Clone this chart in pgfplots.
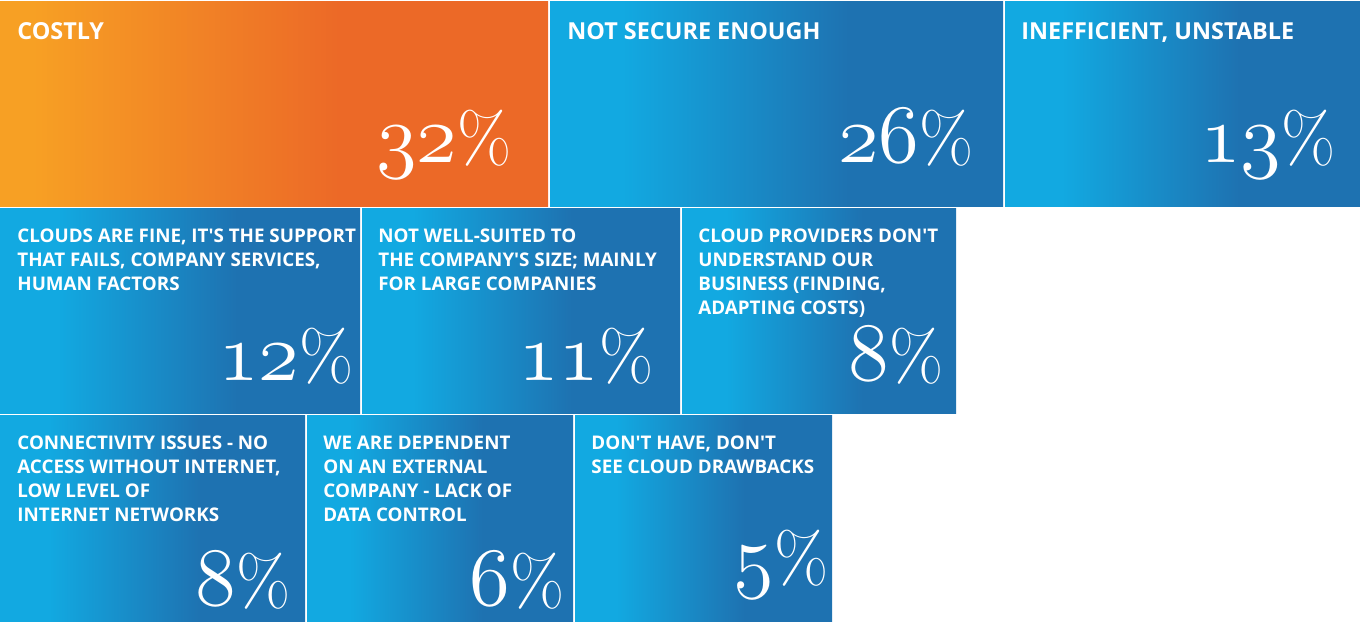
\documentclass[border=0pt]{standalone}
\usepackage{fontspec}
\usepackage{graphicx}
\usepackage{pgfplots}
\pgfplotsset{compat=1.18}
\newfontfamily\labfont{Open Sans}[BoldFont={Open Sans Bold}]
\definecolor{oL}{HTML}{F7A024}
\definecolor{oR}{HTML}{EC6927}
\definecolor{bL}{HTML}{12A9E1}
\definecolor{bR}{HTML}{1E72B1}
% TikZ maps the path box to 25bp..75bp of the shading
\pgfdeclarehorizontalshading{orangeshade}{100bp}{color(0bp)=(oL); color(28bp)=(oL); color(56bp)=(oR); color(100bp)=(oR)}
\pgfdeclarehorizontalshading{blueshade}{100bp}{color(0bp)=(bL); color(33bp)=(bL); color(58bp)=(bR); color(100bp)=(bR)}
\newcommand\onum[1]{\scalebox{2}{\fontencoding{OML}\fontfamily{lmm}\fontseries{m}\fontshape{it}\fontsize{22}{22}\selectfont #1}{\fontsize{35}{35}\selectfont\%}}
\tikzset{
  lab/.style={anchor=base west, text=white, font=\labfont\bfseries\fontsize{9.4}{12}\selectfont, inner sep=0pt},
  big/.style={anchor=base west, text=white, font=\labfont\bfseries\fontsize{11.7}{12}\selectfont, inner sep=0pt},
  num/.style={anchor=base east, text=white, inner sep=0pt},
}
\begin{document}
\begin{tikzpicture}
\begin{axis}[
  scale only axis, width=680pt, height=313.5pt,
  xmin=0, xmax=1360, ymin=0, ymax=627, y dir=reverse,
  xtick=\empty, ytick=\empty, axis line style={draw=none},
  clip=false,
]
% Row 1
\addplot[shade, shading=orangeshade, draw=none] coordinates {(0,1) (548,1) (548,206) (0,206) (0,1)};
\addplot[shade, shading=blueshade, draw=none] coordinates {(550,1) (1003,1) (1003,206) (550,206) (550,1)};
\addplot[shade, shading=blueshade, draw=none] coordinates {(1005,1) (1360,1) (1360,206) (1005,206) (1005,1)};
% Row 2
\addplot[shade, shading=blueshade, draw=none] coordinates {(0,208) (360,208) (360,413) (0,413) (0,208)};
\addplot[shade, shading=blueshade, draw=none] coordinates {(362,208) (680,208) (680,413) (362,413) (362,208)};
\addplot[shade, shading=blueshade, draw=none] coordinates {(682,208) (956,208) (956,413) (682,413) (682,208)};
% Row 3
\addplot[shade, shading=blueshade, draw=none] coordinates {(0,415) (305,415) (305,621) (0,621) (0,415)};
\addplot[shade, shading=blueshade, draw=none] coordinates {(307,415) (573,415) (573,621) (307,621) (307,415)};
\addplot[shade, shading=blueshade, draw=none] coordinates {(575,415) (832,415) (832,621) (575,621) (575,415)};

% labels row 1
\node[big] at (axis cs:17,39) {COSTLY};
\node[big] at (axis cs:567,39) {NOT SECURE ENOUGH};
\node[big] at (axis cs:1021,39) {INEFFICIENT, UNSTABLE};
% row 2
\node[lab] at (axis cs:17,242) {CLOUDS ARE FINE, IT\textquotesingle S THE SUPPORT};
\node[lab] at (axis cs:17,266) {THAT FAILS, COMPANY SERVICES,};
\node[lab] at (axis cs:17,290) {HUMAN FACTORS};
\node[lab] at (axis cs:378,242) {NOT WELL-SUITED TO};
\node[lab] at (axis cs:378,266) {THE COMPANY\textquotesingle S SIZE; MAINLY};
\node[lab] at (axis cs:378,290) {FOR LARGE COMPANIES};
\node[lab] at (axis cs:698,242) {CLOUD PROVIDERS DON\textquotesingle T};
\node[lab] at (axis cs:698,266) {UNDERSTAND OUR};
\node[lab] at (axis cs:698,290) {BUSINESS (FINDING,};
\node[lab] at (axis cs:698,314) {ADAPTING COSTS)};
% row 3
\node[lab] at (axis cs:17,449) {CONNECTIVITY ISSUES - NO};
\node[lab] at (axis cs:17,473) {ACCESS WITHOUT INTERNET,};
\node[lab] at (axis cs:17,497) {LOW LEVEL OF};
\node[lab] at (axis cs:17,521) {INTERNET NETWORKS};
\node[lab] at (axis cs:323,449) {WE ARE DEPENDENT};
\node[lab] at (axis cs:323,473) {ON AN EXTERNAL};
\node[lab] at (axis cs:323,497) {COMPANY - LACK OF};
\node[lab] at (axis cs:323,521) {DATA CONTROL};
\node[lab] at (axis cs:591,449) {DON\textquotesingle T HAVE, DON\textquotesingle T};
\node[lab] at (axis cs:591,473) {SEE CLOUD DRAWBACKS};

% values
\node[num] at (axis cs:512,162) {\onum{32}};
\node[num] at (axis cs:974,162) {\onum{26}};
\node[num] at (axis cs:1336,162) {\onum{13}};
\node[num] at (axis cs:354,380) {\onum{12}};
\node[num] at (axis cs:654,380) {\onum{11}};
\node[num] at (axis cs:944,380) {\onum{8}};
\node[num] at (axis cs:291,605) {\onum{8}};
\node[num] at (axis cs:565,605) {\onum{6}};
\node[num] at (axis cs:829,582) {\onum{5}};
\end{axis}
\end{tikzpicture}
\end{document}
